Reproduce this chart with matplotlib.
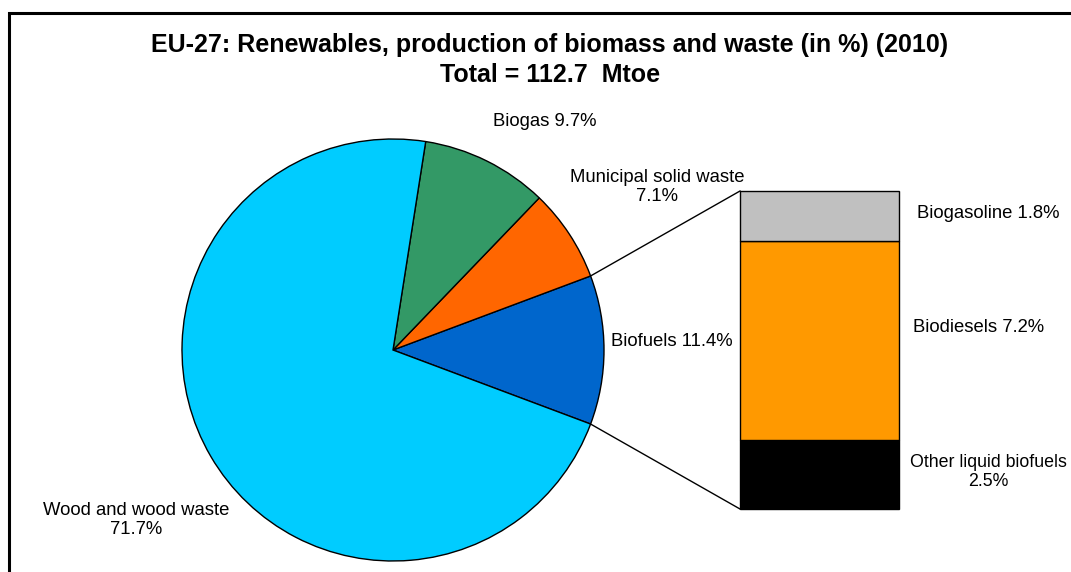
import numpy as np
import matplotlib.pyplot as plt
from matplotlib.patches import Rectangle

# Datos
pie_labels = ["Biofuels", "Municipal solid waste", "Biogas", "Wood and wood waste"]
pie_values = [11.4, 7.1, 9.7, 71.7]
pie_colors = ["#0066CC", "#FF6600", "#339966", "#00CCFF"]

bar_labels = ["Other liquid biofuels", "Biodiesels", "Biogasoline"]
bar_values = [2.5, 7.2, 1.8]
bar_colors = ["#000000", "#FF9900", "#C0C0C0"]

plt.rcParams["font.family"] = ["Liberation Sans", "DejaVu Sans"]

W, H = 1071, 572
fig = plt.figure(figsize=(W / 100, H / 100), dpi=100)
ax = fig.add_axes([0, 0, 1, 1])

# Tarta (coordenadas en píxeles, y hacia arriba)
cx, cy, r = 393, H - 350, 211
start = -pie_values[0] / sum(pie_values) * 360 / 2
ax.pie(pie_values, colors=pie_colors, startangle=start, counterclock=True,
       center=(cx, cy), radius=r, frame=True,
       wedgeprops=dict(edgecolor="black", linewidth=1))
ax.set_xlim(0, W)
ax.set_ylim(0, H)
ax.set_aspect("equal")
ax.axis("off")

# Barra apilada de biocombustibles
bx, bw = 740, 159
btop, bbot = H - 191, H - 509
scale = (btop - bbot) / sum(bar_values)
bottom = bbot
for val, col in zip(bar_values, bar_colors):
    ax.bar(bx + bw / 2, val * scale, width=bw, bottom=bottom, color=col,
           edgecolor="black", linewidth=1)
    bottom += val * scale

# Líneas de unión
a1 = np.deg2rad(start + pie_values[0] / sum(pie_values) * 360)
a0 = np.deg2rad(start)
ax.plot([cx + r * np.cos(a1), bx], [cy + r * np.sin(a1), btop], color="black", lw=1)
ax.plot([cx + r * np.cos(a0), bx], [cy + r * np.sin(a0), bbot], color="black", lw=1)

# Títulos
ax.text(550, H - 45, "EU-27: Renewables, production of biomass and waste (in %) (2010)",
        ha="center", va="center", fontsize=18, fontweight="bold")
ax.text(550, H - 75, "Total = 112.7  Mtoe", ha="center", va="center",
        fontsize=18, fontweight="bold")

# Etiquetas
fs = 13.3
ls = 1.1
ax.text(545, H - 122, "Biogas %.1f%%" % pie_values[2], ha="center", va="center", fontsize=fs)
ax.text(657, H - 187, "Municipal solid waste\n%.1f%%" % pie_values[1], ha="center",
        va="center", fontsize=fs, linespacing=ls)
ax.text(672, H - 341, "Biofuels %.1f%%" % pie_values[0], ha="center", va="center", fontsize=fs)
ax.text(136, H - 520, "Wood and wood waste\n%.1f%%" % pie_values[3], ha="center",
        va="center", fontsize=fs, linespacing=ls)
ax.text(988, H - 214, "Biogasoline %.1f%%" % bar_values[2], ha="center", va="center", fontsize=fs)
ax.text(979, H - 328, "Biodiesels %.1f%%" % bar_values[1], ha="center", va="center", fontsize=fs)
ax.text(988, H - 472, "Other liquid biofuels\n%.1f%%" % bar_values[0], ha="center",
        va="center", fontsize=12.8, linespacing=ls)

# Marco
ax.add_patch(Rectangle((9, -50), 1200, H - 13 + 50, fill=False, edgecolor="black",
                       linewidth=2.2, clip_on=False))

plt.savefig("out.png", dpi=100)
